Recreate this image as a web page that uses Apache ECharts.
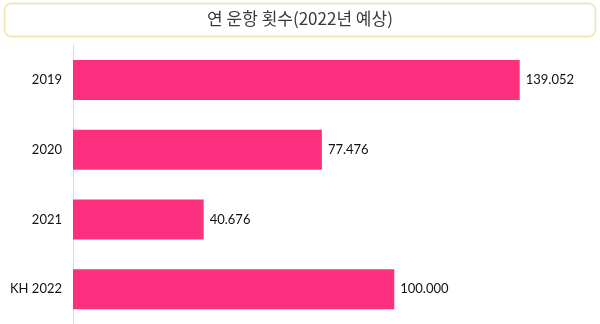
<!DOCTYPE html>
<html>
<head>
<meta charset="utf-8">
<script src="https://cdn.jsdelivr.net/npm/echarts@6/dist/echarts.min.js"></script>
<style>
  html, body { margin: 0; padding: 0; background: #fff; }
  #chart { width: 600px; height: 324px; }
</style>
</head>
<body>
<div id="chart"></div>
<script>
// Annual flight counts, with the 2022 figure as a plan
const categories = ['2019', '2020', '2021', 'KH 2022'];
const flights = [139.052, 77.476, 40.676, 100.000];
const titleText = '연 운항 횟수(2022년 예상)';

const chart = echarts.init(document.getElementById('chart'));
chart.setOption({
  animation: false,
  graphic: [
    {
      type: 'rect',
      shape: { x: 4.5, y: 3.5, width: 591, height: 33, r: 7 },
      style: { fill: '#fff', stroke: '#f1e3a6', lineWidth: 1.5 }
    },
    {
      type: 'text',
      left: 'center',
      top: 10,
      style: {
        text: titleText,
        font: '17px "Noto Sans CJK KR", sans-serif',
        fill: '#3a3a3a'
      }
    }
  ],
  grid: { left: 73, right: 13, top: 45, height: 280 },
  xAxis: {
    type: 'value',
    min: 0,
    max: 160,
    show: false
  },
  yAxis: {
    type: 'category',
    data: categories,
    inverse: true,
    axisLine: { show: true, lineStyle: { color: '#dcdcdc', width: 1 } },
    axisTick: { show: false },
    axisLabel: {
      margin: 11,
      color: '#111',
      fontFamily: 'Lato',
      fontSize: 13
    }
  },
  series: [{
    type: 'bar',
    data: flights,
    barWidth: 40,
    itemStyle: { color: '#fd307f' },
    label: {
      show: true,
      position: 'right',
      distance: 6,
      color: '#111',
      fontFamily: 'Lato',
      fontSize: 13,
      formatter: p => p.value.toFixed(3)
    }
  }]
});
</script>
</body>
</html>
